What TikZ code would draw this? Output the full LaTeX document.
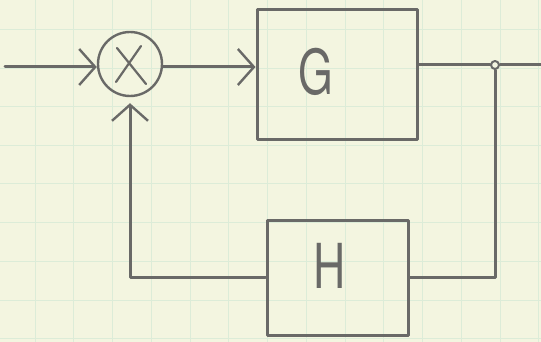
\documentclass[tikz,border=0pt]{standalone}
\usepackage{fontspec}
\setsansfont{TeX Gyre Heros}
\usetikzlibrary{arrows.meta}
\definecolor{paper}{RGB}{243,245,224}
\definecolor{gridc}{RGB}{220,236,216}
\definecolor{pencil}{RGB}{105,105,103}
\tikzset{
  pen/.style={draw=pencil, line width=3pt, line cap=round, line join=round},
  blockbox/.style={pen, rectangle, minimum width=#1, inner sep=0pt},
  lbl/.style={text=pencil, font=\sffamily\fontsize{62}{62}\selectfont, xscale=0.72},
  tip/.style={-{Straight Barb[length=16pt,width=36pt,line width=2.4pt]}},
}
\begin{document}
\begin{tikzpicture}[x=1pt,y=-1pt]
\fill[paper] (0,0) rectangle (541,342);
\useasboundingbox (0,0) rectangle (541,342);
% grid
\foreach \gx in {-4,35,73,112,151,190,228,267,306,345,383,422,461,500,538}
  \draw[gridc, line width=0.9pt] (\gx,0) -- (\gx,342);
\foreach \gy in {29,68,106,145,183,222,261,300,338}
  \draw[gridc, line width=0.9pt] (0,\gy) -- (541,\gy);
% nodes
\node[pen, circle, minimum size=64pt, inner sep=0pt, line width=2.4pt] (sum) at (130,64) {};
\draw[pen, line width=2.2pt] (116,82) -- (141,46) (117,48) -- (146,84);
\node[blockbox=160pt, minimum height=130pt] (G) at (337,75) {};
\node[lbl] (Gl) at (316,72) {G};
\node[blockbox=141pt, minimum height=115pt] (H) at (337.5,277.5) {};
\node[lbl] (Hl) at (330,266) {H};
\node[pen, circle, minimum size=8pt, inner sep=0pt, line width=2pt] (j) at (495,65) {};
\coordinate (in) at (5,67);
\coordinate (out) at (541,65);
% connectors
\draw[pen, tip] (in) -- (sum.west |- in);
\draw[pen, tip] (sum.east |- 0,67) -- (G.west |- 0,67);
\draw[pen] (G.east |- j) -- (j) -- (out);
\draw[pen] (j) |- (H.east);
\draw[pen, tip] (H.west) -| ([yshift=-6pt]sum.south);
\end{tikzpicture}
\end{document}
